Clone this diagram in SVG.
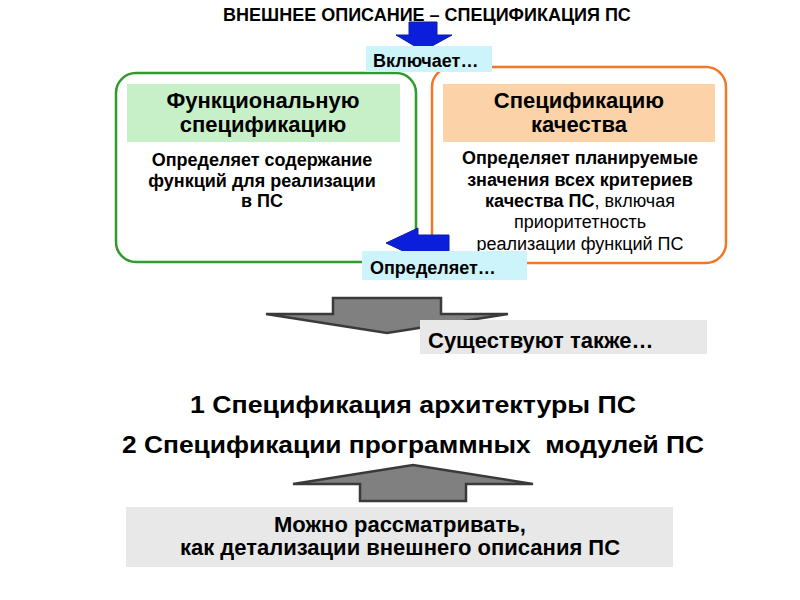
<svg xmlns="http://www.w3.org/2000/svg" width="800" height="600" viewBox="0 0 800 600">
<style>
text{font-family:"Liberation Sans",Arial,sans-serif;fill:#000}
.b{font-weight:bold}
.t{font-size:18px;font-weight:bold}
.h{font-size:22px;font-weight:bold;text-anchor:middle}
.d{font-size:18px;text-anchor:middle}
.lbl{font-size:18px;font-weight:bold}
.big{font-size:24px;font-weight:bold;white-space:pre}
.blue{fill:#0a1edc;stroke:#0a1ea0;stroke-width:1}
.gray{fill:#808080;stroke:#3a3a3a;stroke-width:2.5;stroke-linejoin:miter}
.cyan{fill:#cdf4fa}
.lg{fill:#e8e8e8}
</style>
<rect width="800" height="600" fill="#fff"/>
<g id="title"><text class="t" x="427" y="21" text-anchor="middle">ВНЕШНЕЕ ОПИСАНИЕ – СПЕЦИФИКАЦИЯ ПС</text></g>
<g id="func">
<rect x="116" y="73" width="300" height="189" rx="20" fill="#fff" stroke="#2c9c2c" stroke-width="2.5"/>
<rect x="127" y="84" width="273" height="58" fill="#c8f0c8"/>
<text class="h" x="263" y="108">Функциональную</text>
<text class="h" x="263" y="132">спецификацию</text>
<text class="d b" x="262" y="166">Определяет содержание</text>
<text class="d b" x="262" y="187">функций для реализации</text>
<text class="d b" x="262" y="207">в ПС</text>
</g>
<g id="quality">
<rect x="432" y="67" width="294" height="196" rx="20" fill="#fff" stroke="#f07828" stroke-width="2.5"/>
<rect x="443" y="84" width="272" height="58" fill="#fcd2a8"/>
<text class="h" x="579" y="108">Спецификацию</text>
<text class="h" x="579" y="132">качества</text>
<text class="d b" x="580" y="164">Определяет планируемые</text>
<text class="d b" x="580" y="186">значения всех критериев</text>
<text class="d" x="580" y="207"><tspan class="b">качества ПС</tspan>, включая</text>
<text class="d" x="580" y="228">приоритетность</text>
<text class="d" x="580" y="250">реализации функций ПС</text>
</g>
<g id="connectors">
<polygon class="blue" points="409,22 437,22 437,35 452,35 423,51 396,35 409,35"/>
<polygon class="blue" points="449,235 418,235 418,228 386,243 418,258 418,252 449,252"/>
<polygon class="gray" points="333,298 441,298 441,314 508,314 387,333 266,314 333,314"/>
<polygon class="gray" points="413,465 533,484 466,484 466,501 360,501 360,484 293,484"/>
</g>
<g id="includes">
<rect class="cyan" x="366" y="46" width="126" height="26"/>
<text class="lbl" x="373" y="67">Включает…</text>
</g>
<g id="defines">
<rect class="cyan" x="362" y="251" width="165" height="29"/>
<text class="lbl" x="370" y="274">Определяет…</text>
</g>
<g id="also">
<rect class="lg" x="420" y="320" width="287" height="34"/>
<text class="b" x="428" y="348" font-size="22">Существуют также…</text>
</g>
<g id="list">
<text class="big" x="190" y="413" textLength="446" lengthAdjust="spacingAndGlyphs">1 Спецификация архитектуры ПС</text>
<text class="big" x="122" y="453" textLength="582" lengthAdjust="spacingAndGlyphs">2 Спецификации программных  модулей ПС</text>
</g>
<g id="detail">
<rect class="lg" x="126" y="507" width="547" height="60"/>
<text class="b" x="400" y="532" font-size="22" text-anchor="middle">Можно рассматривать,</text>
<text class="b" x="400" y="555" font-size="22" text-anchor="middle">как детализации внешнего описания ПС</text>
</g>
</svg>
